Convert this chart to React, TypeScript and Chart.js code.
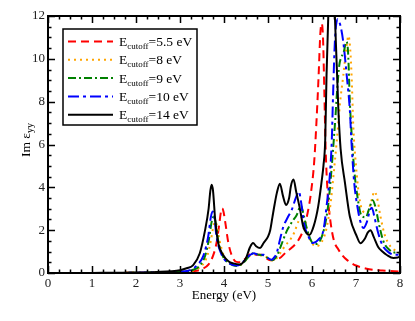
import React, { useEffect, useRef } from "react";
import { Chart, registerables } from "chart.js";

Chart.register(...registerables);

// Legend labels (E_cutoff values)
const cutoffLabels = ["5.5 eV", "8 eV", "9 eV", "10 eV", "14 eV"];
const xTicks = [0, 1, 2, 3, 4, 5, 6, 7, 8];
const yTicks = [0, 2, 4, 6, 8, 10, 12];

// E_cutoff = 5.5 eV (red dashed)
const redX = [0, 1, 2, 2.5, 3.0, 3.3, 3.5, 3.65, 3.75, 3.83, 3.9, 3.93, 3.96, 3.99, 4.03, 4.1, 4.18, 4.28, 4.38, 4.5, 4.62, 4.75, 4.85, 4.95, 5.05, 5.15, 5.27, 5.4, 5.55, 5.68, 5.8, 5.9, 5.98, 6.05, 6.1, 6.15, 6.19, 6.22, 6.25, 6.28, 6.31, 6.36, 6.42, 6.5, 6.6, 6.7, 6.8, 7.0, 7.3, 7.6, 8];
const redY = [0, 0, 0.01, 0.02, 0.04, 0.08, 0.18, 0.4, 0.8, 1.4, 2.4, 2.85, 3.02, 2.85, 2.35, 1.4, 0.8, 0.52, 0.5, 0.7, 0.9, 0.85, 0.85, 0.7, 0.6, 0.62, 0.7, 0.95, 1.2, 1.5, 2.0, 2.8, 3.8, 5.2, 7.0, 9.2, 11.2, 11.65, 11.0, 8.5, 5.8, 3.6, 2.4, 1.5, 1.1, 0.8, 0.6, 0.35, 0.18, 0.12, 0.06];

// E_cutoff = 8 eV (orange dotted)
const orangeX = [0, 1, 2, 2.5, 3.0, 3.3, 3.5, 3.62, 3.7, 3.76, 3.8, 3.84, 3.9, 4.0, 4.15, 4.3, 4.45, 4.6, 4.68, 4.8, 4.92, 5.02, 5.1, 5.2, 5.3, 5.4, 5.5, 5.6, 5.69, 5.78, 5.84, 5.92, 6.0, 6.1, 6.22, 6.32, 6.42, 6.5, 6.56, 6.64, 6.71, 6.78, 6.83, 6.87, 6.9, 6.94, 7.0, 7.07, 7.15, 7.25, 7.34, 7.42, 7.48, 7.56, 7.65, 7.78, 7.9, 8];
const orangeY = [0, 0, 0.01, 0.02, 0.04, 0.12, 0.35, 0.8, 1.5, 2.2, 2.4, 2.2, 1.5, 0.8, 0.45, 0.33, 0.5, 0.82, 0.88, 0.82, 0.8, 0.65, 0.58, 0.7, 1.0, 1.3, 1.54, 1.9, 2.4, 2.6, 2.3, 1.8, 1.4, 1.25, 1.45, 2.0, 3.2, 4.8, 6.1, 8.0, 9.2, 10.5, 11.07, 10.4, 9.2, 6.8, 5.0, 3.6, 2.9, 2.8, 3.3, 3.8, 3.5, 2.6, 1.8, 1.25, 1.05, 1.0];

// E_cutoff = 9 eV (green dash-dot)
const greenX = [0, 1, 2, 2.5, 3.0, 3.3, 3.45, 3.57, 3.66, 3.72, 3.77, 3.81, 3.87, 3.97, 4.12, 4.3, 4.45, 4.6, 4.68, 4.8, 4.92, 5.02, 5.1, 5.2, 5.3, 5.42, 5.55, 5.65, 5.75, 5.8, 5.88, 5.98, 6.07, 6.18, 6.28, 6.37, 6.43, 6.48, 6.53, 6.57, 6.62, 6.66, 6.72, 6.78, 6.82, 6.86, 6.9, 6.96, 7.03, 7.12, 7.22, 7.3, 7.38, 7.44, 7.52, 7.62, 7.75, 7.9, 8];
const greenY = [0, 0, 0.01, 0.03, 0.05, 0.15, 0.35, 0.8, 1.6, 2.4, 2.64, 2.35, 1.5, 0.8, 0.45, 0.33, 0.5, 0.85, 0.92, 0.85, 0.82, 0.65, 0.6, 0.8, 1.3, 1.93, 2.4, 2.7, 3.15, 2.8, 2.1, 1.5, 1.35, 1.5, 2.1, 3.2, 4.5, 5.8, 7.2, 8.5, 9.7, 10.05, 10.3, 10.8, 10.3, 8.0, 6.5, 4.8, 3.6, 2.7, 2.6, 3.0, 3.4, 3.1, 2.3, 1.5, 1.1, 0.95, 0.95];

// E_cutoff = 10 eV (blue dash-dot)
const blueX = [0, 1, 2, 2.5, 3.0, 3.25, 3.39, 3.53, 3.64, 3.7, 3.74, 3.78, 3.83, 3.95, 4.12, 4.3, 4.45, 4.6, 4.68, 4.78, 4.9, 5.0, 5.08, 5.15, 5.2, 5.27, 5.35, 5.45, 5.54, 5.63, 5.7, 5.76, 5.82, 5.92, 6.02, 6.14, 6.26, 6.33, 6.41, 6.45, 6.48, 6.52, 6.58, 6.64, 6.71, 6.79, 6.86, 6.9, 6.96, 7.04, 7.1, 7.17, 7.25, 7.32, 7.36, 7.42, 7.5, 7.6, 7.75, 7.9, 8];
const blueY = [0, 0, 0.01, 0.03, 0.06, 0.15, 0.37, 0.8, 1.7, 2.6, 2.87, 2.65, 1.7, 0.84, 0.45, 0.35, 0.55, 0.85, 0.92, 0.85, 0.85, 0.7, 0.62, 0.75, 0.95, 1.54, 2.17, 2.6, 2.95, 3.5, 3.8, 3.2, 2.3, 1.7, 1.4, 1.55, 2.0, 3.1, 4.7, 6.2, 8.4, 10.8, 11.85, 11.6, 10.8, 9.2, 7.6, 6.0, 4.2, 3.0, 2.4, 2.1, 2.4, 2.95, 3.05, 2.6, 1.9, 1.3, 0.95, 0.85, 0.85];

// E_cutoff = 14 eV (black solid)
const blackX = [0, 1, 2, 2.5, 2.8, 3.0, 3.15, 3.3, 3.45, 3.57, 3.65, 3.69, 3.72, 3.75, 3.8, 3.87, 3.98, 4.1, 4.21, 4.36, 4.5, 4.59, 4.66, 4.73, 4.82, 4.9, 5.0, 5.05, 5.1, 5.15, 5.2, 5.27, 5.34, 5.41, 5.48, 5.52, 5.58, 5.64, 5.73, 5.8, 5.88, 5.94, 6.04, 6.14, 6.22, 6.26, 6.3, 6.33, 6.37, 6.45, 6.52, 6.6, 6.65, 6.75, 6.86, 7.02, 7.1, 7.2, 7.27, 7.33, 7.4, 7.5, 7.6, 7.7, 7.85, 7.95, 8];
const blackY = [0, 0.005, 0.02, 0.05, 0.08, 0.13, 0.22, 0.37, 0.92, 2.0, 3.0, 3.85, 4.12, 3.85, 2.48, 1.39, 0.84, 0.55, 0.45, 0.4, 0.7, 1.2, 1.4, 1.25, 1.17, 1.4, 1.7, 2.0, 2.6, 3.2, 3.73, 4.17, 3.6, 3.18, 3.5, 4.05, 4.36, 3.8, 2.95, 2.17, 1.85, 1.78, 2.2, 3.1, 4.3, 5.0, 6.2, 9.2, 12, 14.2, 12, 7.6, 5.8, 4.2, 2.64, 1.7, 1.39, 1.6, 1.9, 2.0, 1.7, 1.23, 1.0, 0.84, 0.7, 0.72, 0.78];

const seriesX = [redX, orangeX, greenX, blueX, blackX];
const seriesY = [redY, orangeY, greenY, blueY, blackY];
const colors = ["#ff0000", "#ffa500", "#008000", "#0000ff", "#000000"];
const dashes: number[][] = [[8, 5], [2, 4], [8, 3, 2, 3], [11, 4, 3, 4], []];

const SERIF = "'Liberation Serif', 'DejaVu Serif', 'Times New Roman', serif";

const framePlugin = {
  id: "framePlugin",
  afterDraw(chart: any) {
    const { ctx, chartArea } = chart;
    const { left, right, top, bottom } = chartArea;
    const xs = chart.scales.x;
    const ys = chart.scales.y;
    ctx.save();
    // ticks inward on all sides
    ctx.strokeStyle = "#000";
    ctx.lineWidth = 1.5;
    ctx.beginPath();
    for (let i = 0; i <= 32; i++) {
      const v = i * 0.25;
      const px = Math.round(xs.getPixelForValue(v)) + 0.5;
      const len = i % 4 === 0 ? 7 : 3.5;
      ctx.moveTo(px, bottom);
      ctx.lineTo(px, bottom - len);
      ctx.moveTo(px, top);
      ctx.lineTo(px, top + len);
    }
    for (let i = 0; i <= 24; i++) {
      const v = i * 0.5;
      const py = Math.round(ys.getPixelForValue(v)) + 0.5;
      const len = i % 4 === 0 ? 7 : 3.5;
      ctx.moveTo(left, py);
      ctx.lineTo(left + len, py);
      ctx.moveTo(right, py);
      ctx.lineTo(right - len, py);
    }
    ctx.stroke();
    ctx.lineWidth = 2;
    ctx.strokeRect(left, top, right - left, bottom - top);

    // legend
    const bx = 63, by = 29, bw = 134, bh = 96;
    ctx.fillStyle = "#fff";
    ctx.fillRect(bx, by, bw, bh);
    ctx.lineWidth = 1.5;
    ctx.strokeStyle = "#000";
    ctx.strokeRect(bx, by, bw, bh);
    for (let i = 0; i < cutoffLabels.length; i++) {
      const cy = 41.5 + i * 18.3;
      ctx.beginPath();
      ctx.setLineDash(dashes[i]);
      ctx.strokeStyle = colors[i];
      ctx.lineWidth = 2;
      ctx.moveTo(68, cy);
      ctx.lineTo(113, cy);
      ctx.stroke();
      ctx.setLineDash([]);
      ctx.fillStyle = "#000";
      ctx.textBaseline = "alphabetic";
      ctx.textAlign = "left";
      ctx.font = `13.5px ${SERIF}`;
      let tx = 119;
      const base = cy + 4.5;
      ctx.fillText("E", tx, base);
      tx += ctx.measureText("E").width;
      ctx.font = `9px ${SERIF}`;
      ctx.fillText("cutoff", tx, base + 3);
      tx += ctx.measureText("cutoff").width;
      ctx.font = `13.5px ${SERIF}`;
      ctx.fillText("=" + cutoffLabels[i], tx, base);
    }

    // x axis title
    ctx.fillStyle = "#000";
    ctx.font = `13px ${SERIF}`;
    ctx.textAlign = "center";
    ctx.fillText("Energy (eV)", (left + right) / 2, 299);

    // y axis title (rotated)
    ctx.translate(30, 157);
    ctx.rotate(-Math.PI / 2);
    ctx.textAlign = "left";
    ctx.font = `13.5px ${SERIF}`;
    ctx.fillText("Im ε", 0, 0);
    const w = ctx.measureText("Im ε").width;
    ctx.font = `10px ${SERIF}`;
    ctx.fillText("yy", w, 3);
    ctx.restore();
  },
};

export default function App() {
  const canvasRef = useRef<HTMLCanvasElement | null>(null);

  useEffect(() => {
    document.body.style.margin = "0";
    const canvas = canvasRef.current;
    if (!canvas) return;
    const order = [4, 3, 2, 1, 0];
    const datasets = order.map((i) => ({
      label: "Ecutoff=" + cutoffLabels[i],
      data: seriesX[i].map((x, k) => ({ x, y: seriesY[i][k] })),
      borderColor: colors[i],
      backgroundColor: colors[i],
      borderWidth: 2,
      borderDash: dashes[i],
      pointRadius: 0,
      fill: false,
      cubicInterpolationMode: "monotone" as const,
      clip: 0,
    }));
    const chart = new Chart(canvas, {
      type: "line",
      data: { datasets },
      options: {
        animation: false,
        responsive: false,
        devicePixelRatio: 1,
        layout: { padding: { left: 0, top: 16, right: 15, bottom: 0 } },
        plugins: { legend: { display: false }, tooltip: { enabled: false } },
        scales: {
          x: {
            type: "linear",
            min: 0,
            max: 8,
            afterFit: (s: any) => { s.height = 48; },
            afterBuildTicks: (s: any) => { s.ticks = xTicks.map((v) => ({ value: v })); },
            grid: { display: false, drawTicks: false },
            border: { display: false },
            ticks: { padding: 3, color: "#222", font: { family: SERIF, size: 13 }, maxRotation: 0 },
          },
          y: {
            type: "linear",
            min: 0,
            max: 12,
            afterFit: (s: any) => { s.width = 48; },
            afterBuildTicks: (s: any) => { s.ticks = yTicks.map((v) => ({ value: v })); },
            grid: { display: false, drawTicks: false },
            border: { display: false },
            ticks: { padding: 3, color: "#222", font: { family: SERIF, size: 13 } },
          },
        },
      },
      plugins: [framePlugin],
    });
    return () => chart.destroy();
  }, []);

  return (
    <div style={{ width: 415, height: 321 }}>
      <canvas ref={canvasRef} width={415} height={321} />
    </div>
  );
}
